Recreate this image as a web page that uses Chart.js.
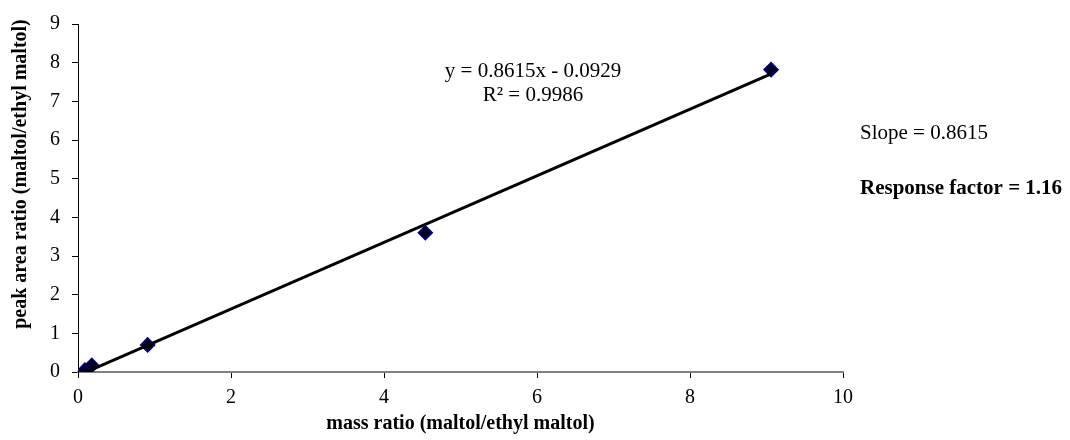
<!DOCTYPE html>
<html lang="en">
<head>
  <meta charset="UTF-8">
  <title>Maltol calibration</title>
  <script src="https://cdn.jsdelivr.net/npm/chart.js"></script>
  <style>
    body { margin: 0; background: #fff; }
    #wrap { width: 1070px; height: 440px; }
  </style>
</head>
<body>
  <div id="wrap">
    <canvas id="calChart" width="1070" height="440"></canvas>
  </div>

  <script>
    // measured points
    const massRatio = [0.09, 0.18, 0.91, 4.54, 9.06];
    const areaRatio = [0.05, 0.17, 0.70, 3.60, 7.82];

    // linear trendline ends
    const trendX = [0.09, 9.06];
    const trendY = [-0.015, 7.71];

    const eqLines = ['y = 0.8615x - 0.0929', 'R² = 0.9986'];
    const sideNote = 'Slope = 0.8615';
    const sideNoteBold = 'Response factor = 1.16';
    const yTitle = 'peak area ratio (maltol/ethyl maltol)';

    const serif = "'Liberation Serif', 'Times New Roman', serif";
    Chart.defaults.font.family = serif;
    Chart.defaults.color = '#000';

    // text boxes drawn on top of the chart (y title sits a bit above centre, like Excel)
    const notes = {
      id: 'notes',
      afterDraw(chart) {
        const ctx = chart.ctx;
        ctx.save();
        ctx.fillStyle = '#000';
        ctx.textBaseline = 'middle';
        ctx.font = '21px ' + serif;
        ctx.textAlign = 'center';
        ctx.fillText(eqLines[0], 533, 71);
        ctx.fillText(eqLines[1], 533, 95);
        ctx.textAlign = 'left';
        ctx.fillText(sideNote, 860, 133);
        ctx.font = 'bold 21px ' + serif;
        ctx.fillText(sideNoteBold, 860, 189);

        ctx.font = 'bold 20px ' + serif;
        ctx.textAlign = 'center';
        ctx.translate(21, 174);
        ctx.rotate(-Math.PI / 2);
        ctx.fillText(yTitle, 0, 0);
        ctx.restore();
      }
    };

    const ctx = document.getElementById('calChart').getContext('2d');
    new Chart(ctx, {
      type: 'scatter',
      data: {
        datasets: [
          {
            label: 'trend',
            type: 'line',
            data: trendX.map((x, i) => ({ x: x, y: trendY[i] })),
            borderColor: '#000',
            borderWidth: 3,
            pointRadius: 0,
            fill: false,
            order: 0
          },
          {
            label: 'data',
            data: massRatio.map((x, i) => ({ x: x, y: areaRatio[i] })),
            pointStyle: 'rectRot',
            pointRadius: 7,
            pointBackgroundColor: '#000022',
            pointBorderColor: '#000080',
            pointBorderWidth: 1.5,
            showLine: false,
            order: 1
          }
        ]
      },
      options: {
        responsive: false,
        animation: false,
        devicePixelRatio: 1,
        layout: { padding: { top: 16, right: 227, left: 0, bottom: 0 } },
        plugins: {
          legend: { display: false },
          tooltip: { enabled: false }
        },
        scales: {
          x: {
            type: 'linear',
            min: 0,
            max: 10,
            ticks: { stepSize: 2, font: { size: 20 }, padding: 8, maxRotation: 0 },
            grid: { drawOnChartArea: false, drawTicks: true, tickLength: 6, color: '#000' },
            border: { color: '#808080', width: 2 },
            title: {
              display: true,
              text: 'mass ratio (maltol/ethyl maltol)',
              font: { size: 20, weight: 'bold' },
              padding: { top: 0, bottom: 4 }
            },
            afterFit(scale) { scale.height = 68; }
          },
          y: {
            type: 'linear',
            min: 0,
            max: 9,
            ticks: { stepSize: 1, font: { size: 20 }, padding: 12 },
            grid: { drawOnChartArea: false, drawTicks: true, tickLength: 6, color: '#000' },
            border: { color: '#000', width: 1 },
            afterFit(scale) { scale.width = 78; }
          }
        }
      },
      plugins: [notes]
    });
  </script>
</body>
</html>
